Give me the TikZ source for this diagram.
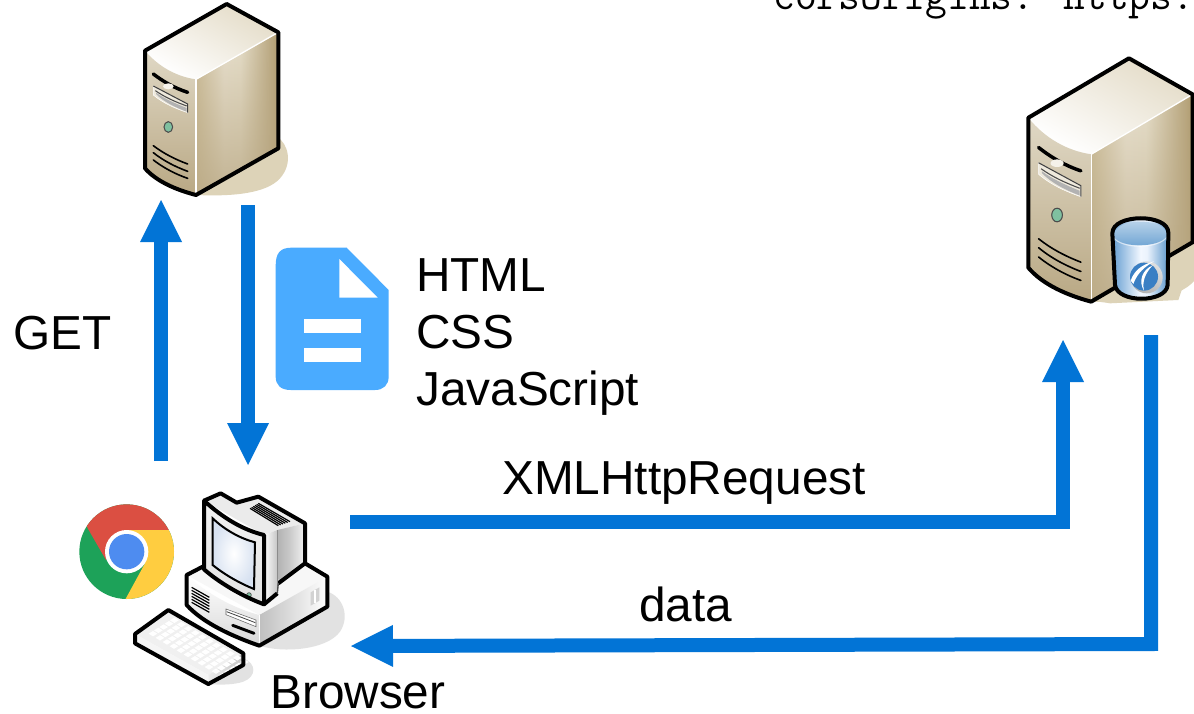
\documentclass[tikz,border=0pt]{standalone}
\usepackage{fontspec}
\setmainfont{Liberation Sans}
\usetikzlibrary{arrows.meta,fadings}
\definecolor{flowblue}{HTML}{0274D6}
\definecolor{docblue}{HTML}{4AABFF}
\definecolor{srvshadow}{HTML}{DDD3B8}
\definecolor{pcshadow}{HTML}{E2E2E2}
\definecolor{chromered}{HTML}{DB4F42}
\definecolor{chromegreen}{HTML}{1DA259}
\definecolor{chromeyellow}{HTML}{FFCD40}
\definecolor{chromeblue}{HTML}{4E8CF0}
\definecolor{leaf}{HTML}{7FC0A0}
\definecolor{srvtop}{HTML}{E4DCC8}
\definecolor{srvfronta}{HTML}{E6E0D0}
\definecolor{srvfrontb}{HTML}{B9A884}
\definecolor{logoblue}{HTML}{3A7FC4}
\definecolor{cylblue}{HTML}{6BA2D2}
\definecolor{screenedge}{HTML}{D8E2F1}
\pgfdeclarehorizontalshading{srvright}{100bp}{
 rgb(0bp)=(.80,.74,.60);rgb(25bp)=(.80,.74,.60);rgb(42bp)=(.91,.88,.81);rgb(52bp)=(.90,.87,.79);rgb(75bp)=(.69,.61,.44);rgb(100bp)=(.69,.61,.44)}
\pgfdeclarehorizontalshading{cylbody}{100bp}{
 rgb(0bp)=(.40,.62,.82);rgb(25bp)=(.40,.62,.82);rgb(50bp)=(.95,.97,1);rgb(56bp)=(.92,.95,.99);rgb(75bp)=(.37,.60,.80);rgb(100bp)=(.37,.60,.80)}
\pgfdeclarehorizontalshading{pcside}{100bp}{
 rgb(0bp)=(.70,.70,.70);rgb(25bp)=(.70,.70,.70);rgb(45bp)=(.78,.78,.78);rgb(75bp)=(.95,.95,.95);rgb(100bp)=(.95,.95,.95)}
\tikzset{
  flow/.style={draw=flowblue,line width=10.5pt,-{Triangle[length=31.5pt 0 0,width=31.5pt 0 0,line width=0pt]}},
  txtlabel/.style={font=\fontsize{35.8}{35.8}\selectfont,anchor=base west,inner sep=0pt,text=black},
  heavy/.style={draw=black,line width=3pt,line join=round},
  thinblk/.style={draw=black,line width=1.2pt,line cap=round},
}
\newcommand{\srvbody}{%
  \fill[srvshadow] (228,585) -- (470,410) .. controls (505,430) and (520,490) .. (480,535) .. controls (440,580) and (340,590) .. (228,585) -- cycle;
  \shade[bottom color=white,top color=srvtop,shading angle=-30] (75,152) -- (320,12) -- (475,97) -- (228,238) .. controls (170,230) and (115,200) .. (75,152) -- cycle;
  \shade[top color=srvfronta!85!srvfrontb,middle color=srvfronta,bottom color=srvfrontb] (75,152) .. controls (115,200) and (170,230) .. (228,238) -- (228,585) .. controls (170,570) and (110,545) .. (75,505) -- cycle;
  \shade[shading=srvright] (228,238) -- (475,97) -- (475,445) -- (228,585) -- cycle;
  \fill[srvfrontb,path fading=north,fill opacity=.8] (228,238) -- (475,97) -- (475,445) -- (228,585) -- cycle;
  \draw[white,line width=1pt] (228,238) -- (228,583);
  \draw[white,line width=1pt] (228,238) -- (473,98);
  \draw[black,line width=2.6pt,line cap=round] (100,222) .. controls (130,245) and (165,265) .. (203,277);
  \fill[white!70!srvshadow] (145,259) ellipse [x radius=16,y radius=9];
  \fill[white!50!srvshadow,draw=white,line width=.4pt] (100,258) -- (203,312) -- (203,338) .. controls (165,325) and (130,310) .. (100,285) -- cycle;
  \draw[black!75,line width=.8pt] (100,258) -- (203,312) -- (203,338);
  \draw[black!70,line width=.8pt] (106,272) .. controls (135,292) and (165,305) .. (200,318);
  \fill[gray!60,draw=none] (108,278) .. controls (135,297) and (165,310) .. (200,324) -- (200,335) .. controls (165,322) and (130,305) .. (108,282) -- cycle;
  \fill[leaf,draw=black!70,line width=.8pt] (145,381) ellipse [x radius=13,y radius=16];
  \draw[thinblk] (100,437) .. controls (130,460) and (165,478) .. (203,492);
  \draw[thinblk] (100,458) .. controls (130,482) and (165,500) .. (203,514);
  \draw[thinblk] (100,480) .. controls (130,503) and (165,522) .. (203,535);
  \draw[heavy] (75,152) -- (320,12) -- (475,97) -- (475,445) -- (228,585) .. controls (170,570) and (110,545) .. (75,505) -- cycle;
}
\begin{document}
\begin{tikzpicture}[x=.75pt,y=-.75pt]
\clip (0,0) rectangle (1194,713);
\fill[white] (0,0) rectangle (1194,713);

% clipped caption
\node[font=\ttfamily\fontsize{31.7}{31.7}\selectfont,anchor=base west,inner sep=0pt] (caption) at (773,10) {corsOrigins: https:};

% web server
\begin{scope}[shift={(120,0)},scale=1/3]
  \srvbody
\end{scope}

% API server
\begin{scope}[shift={(1010,40)},scale=1/3]
  \fill[srvshadow] (478,650) -- (552,608) -- (552,690) -- (520,735) -- (505,780) -- (300,790) -- (240,780) -- cycle;
\end{scope}
\begin{scope}[shift={(997.5,53.2)},xscale=.4108,yscale=.4247]
  \srvbody
\end{scope}
\begin{scope}[shift={(1010,40)},scale=1/3]
  \shade[shading=cylbody] (307,580) .. controls (307,520) and (475,520) .. (475,578) -- (473,735) .. controls (468,790) and (322,790) .. (315,735) -- cycle;
  \shade[top color=white!60!cylblue,bottom color=cylblue] (310,590) .. controls (335,625) and (445,625) .. (472,588) .. controls (470,530) and (312,530) .. (310,590) -- cycle;
  \draw[white,opacity=.6,line width=.8pt] (310,592) .. controls (335,628) and (445,628) .. (472,590);
  \shade[top color=gray!25,bottom color=gray!60,shading angle=-30] (410,712) circle [radius=48];
  \fill[logoblue] (402,710) circle [radius=42];
  \fill[white] (362,722) .. controls (372,692) and (395,674) .. (432,664) .. controls (405,680) and (382,698) .. (370,732) -- cycle;
  \fill[white] (428,676) .. controls (395,690) and (385,725) .. (402,752) .. controls (396,725) and (405,700) .. (428,676) -- cycle;
  \draw[heavy] (307,580) .. controls (307,520) and (475,520) .. (475,578) -- (473,735) .. controls (468,790) and (322,790) .. (315,735) -- cycle;
\end{scope}

% browser group
\begin{scope}[shift={(70,480)},scale=1/3]
  % chrome
  \fill[chromegreen] (170,215) circle [radius=142];
  \begin{scope}
    \clip (170,215) circle [radius=142];
    \fill[chromered] (52,143) -- (108,240) -- (170,150) -- (300,150) -- (300,60) -- (40,60) -- cycle;
    \fill[chromeyellow] (170,150) -- (320,150) -- (320,370) -- (165,360) -- (225,250) -- cycle;
  \end{scope}
  \fill[white] (170,215) circle [radius=65];
  \fill[chromeblue] (170,215) circle [radius=53];
  % shadows
  \fill[pcshadow] (772,335) .. controls (820,350) and (840,410) .. (810,455) .. controls (770,510) and (640,520) .. (568,497) -- cycle;
  \fill[pcshadow] (520,535) .. controls (560,550) and (560,590) .. (520,605) .. controls (490,615) and (450,615) .. (415,612) -- cycle;
  % base
  \fill[white!97!black] (350,285) -- (410,250) -- (705,250) -- (772,290) -- (568,405) -- cycle;
  \shade[top color=white,bottom color=gray!30] (350,285) .. controls (410,340) and (490,385) .. (568,405) -- (568,497) .. controls (490,470) and (400,430) .. (350,375) -- cycle;
  \shade[left color=gray!50,right color=white] (568,405) -- (772,290) -- (772,380) -- (568,497) -- cycle;
  \draw[white,line width=.8pt] (568,405) -- (568,495);
  % base details
  \foreach \d in {0,9,18,27,36,45}{\draw[black,line width=.9pt] (365,{322+\d}) -- (418,{352+\d});}
  \fill[gray!35] (722,337) -- (748,322) -- (748,362) -- (722,377) -- cycle;
  \draw[white,line width=.8pt] (735,330) -- (735,370);
  \fill[white,draw=black!60,line width=.4pt] (468,387) -- (558,420) -- (558,440) -- (468,404) -- cycle;
  \draw[black!75,line width=.6pt] (470,395) -- (556,428);
  \draw[black,line width=2.2pt,line cap=round] (488,436) -- (552,460);
  \draw[heavy] (402,258) -- (350,285) -- (350,375) .. controls (400,430) and (490,470) .. (568,497) -- (772,380) -- (772,290) -- (705,250);
  % monitor
  \fill[white!92!black] (402,62) -- (452,40) -- (500,68) -- (565,50) -- (705,130) -- (622,150) -- (582,165) -- cycle;
  \shade[shading=pcside] (622,150) -- (705,130) -- (705,250) -- (625,310) -- cycle;
  \shade[left color=white,right color=gray!45] (582,165) -- (622,150) -- (622,340) -- (582,375) -- cycle;
  \shade[top color=white!95!black,bottom color=gray!22] (402,62) .. controls (460,115) and (520,150) .. (582,165) -- (582,375) .. controls (520,350) and (450,310) .. (402,268) -- cycle;
  \shade[inner color=white,outer color=screenedge,draw=black,line width=1.5pt] (428,115) .. controls (465,150) and (510,175) .. (555,187) -- (552,327) .. controls (510,310) and (465,285) .. (428,255) -- cycle;
  \fill[leaf,draw=black!70,line width=.5pt] (537,345) circle [radius=7];
  \foreach \t in {0,.2,.4,.6,.8,1}{\draw[black,line width=.9pt] ({540+25*\t},{85-15*\t}) -- ({625+35*\t},{137-12*\t});}
  \draw[heavy] (402,62) -- (452,40) -- (500,68) -- (565,50) -- (705,130) -- (705,250) -- (625,310);
  \draw[heavy] (402,62) .. controls (460,115) and (520,150) .. (582,165) -- (582,373) .. controls (520,350) and (450,310) .. (402,268) -- cycle;
  \draw[black!45,line width=.5pt] (622,150) -- (622,340);
  \draw[heavy] (582,373) -- (622,340);
  \draw[black!70,line width=1pt] (622,340) -- (625,310);
  % keyboard
  \fill[gray!12] (195,462) -- (295,390) -- (520,520) -- (415,585) -- cycle;
  \fill[gray!8] (195,462) -- (415,585) -- (415,612) -- (195,490) -- cycle;
  \shade[left color=gray!15,right color=gray!45] (415,585) -- (520,520) -- (520,555) -- (415,612) -- cycle;
  \foreach \i in {0,...,10}{\foreach \j in {0,...,4}{
    \fill[white] ({236+\i*21+\j*16},{461+\i*12.5-\j*10}) -- ++(13,8) -- ++(13,-8) -- ++(-13,-8) -- cycle;
  }}
  \draw[heavy] (195,462) -- (295,390) -- (520,520) -- (520,555) -- (415,612) -- (195,490) -- cycle;
\end{scope}

% document icon
\begin{scope}[shift={(260,235)},scale=1/3]
  \fill[docblue] (47,92) .. controls (47,55) and (60,38) .. (95,38) -- (260,38) -- (386,165) -- (386,425) .. controls (386,450) and (370,465) .. (345,465) -- (92,465) .. controls (62,465) and (47,450) .. (47,425) -- cycle;
  \fill[white] (238,72) -- (238,188) -- (353,188) -- cycle;
  \fill[white] (132,252) rectangle (302,295);
  \fill[white] (132,338) rectangle (302,381);
\end{scope}

% connectors
\coordinate (getA) at (161,461);
\coordinate (getB) at (161,200);
\coordinate (docA) at (248,205);
\coordinate (docB) at (248,465);
\coordinate (xhrA) at (350,522);
\coordinate (xhrC) at (1063,522);
\coordinate (xhrB) at (1063,340);
\coordinate (datA) at (1151,335);
\coordinate (datC) at (1151,644);
\coordinate (datB) at (351,646);
\draw[flow] (getA) -- (getB);
\draw[flow] (docA) -- (docB);
\draw[flow] (xhrA) -- (xhrC) -- (xhrB);
\draw[flow] (datA) -- (datC) -- (datB);

% labels
\node[txtlabel] (get) at (13,349) {GET};
\node[txtlabel] (html) at (416,291) {HTML};
\node[txtlabel] (css) at (416,348) {CSS};
\node[txtlabel] (js) at (416,405) {JavaScript};
\node[txtlabel] (xhr) at (502,494) {XMLHttpRequest};
\node[txtlabel] (data) at (639,621) {data};
\node[txtlabel] (browser) at (270,708) {Browser};
\end{tikzpicture}
\end{document}
